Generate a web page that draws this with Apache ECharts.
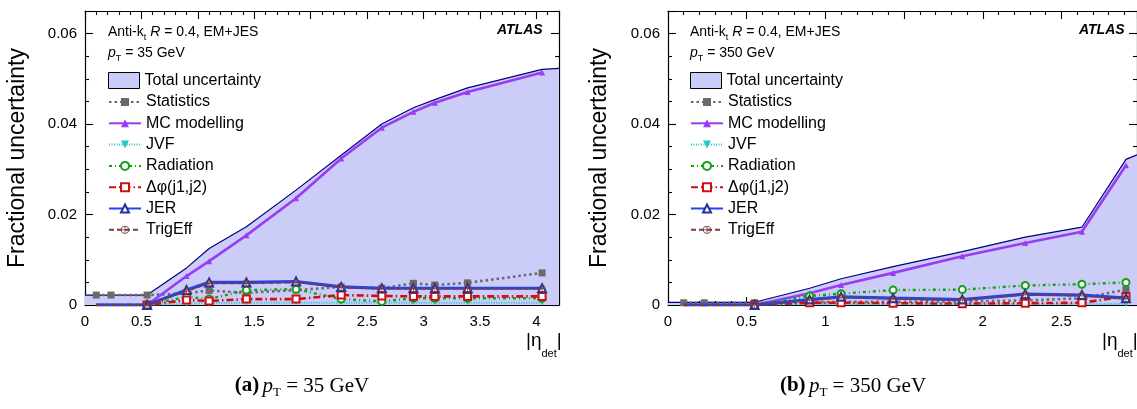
<!DOCTYPE html>
<html><head><meta charset="utf-8">
<script src="https://cdn.jsdelivr.net/npm/echarts@6/dist/echarts.min.js"></script>
<style>html,body{margin:0;padding:0;background:#fff}#c{width:1137px;height:409px}</style>
</head><body><div id="c"></div>
<script>
// ---------- data: panel (a) pT = 35 GeV ----------
const etaA      = [0.1, 0.23, 0.55, 0.9, 1.1, 1.43, 1.87, 2.27, 2.63, 2.91, 3.1, 3.39, 4.05];
const totEtaA   = [0, 0.1, 0.23, 0.55, 0.9, 1.1, 1.43, 1.87, 2.27, 2.63, 2.91, 3.1, 3.39, 4.05, 4.2];
const totalA    = [0.0022,0.0022,0.0022,0.0022,0.0082,0.0125,0.0173,0.0254,0.0331,0.0400,0.0436,0.0454,0.0480,0.0521,0.0523];
const statA     = [0.0022,0.0022,0.0022,0.0026,0.0032,0.0027,0.0033,0.0040,0.0037,0.0048,0.0044,0.0049,0.0071];
const mcA       = [0,0,0,0.0064,0.0097,0.0154,0.0236,0.0324,0.0392,0.0427,0.0447,0.0471,0.0514];
const jvfA      = [0,0,0,0.0003,0.0004,0.0005,0.0005,0.0005,0.0005,0.0005,0.0005,0.0005,0.0005];
const radA      = [0,0,0,0.0018,0.0013,0.0033,0.0035,0.0013,0.0008,0.0015,0.0015,0.0015,0.0015];
const dphiA     = [0,0,0,0.0011,0.0009,0.0013,0.0013,0.0022,0.0020,0.0019,0.0019,0.0019,0.0019];
const jerA      = [0,0,0,0.0033,0.0050,0.0050,0.0052,0.0040,0.0037,0.0037,0.0037,0.0037,0.0037];
const trigA     = [0,0,0,0.0031,0.0048,0.0048,0.0050,0.0039,0.0036,0.0036,0.0036,0.0036,0.0036];
// ---------- data: panel (b) pT = 350 GeV ----------
const etaB      = [0.1, 0.23, 0.55, 0.9, 1.1, 1.43, 1.87, 2.27, 2.63, 2.91];
const totEtaB   = [0, 0.1, 0.23, 0.55, 0.9, 1.1, 1.43, 1.87, 2.27, 2.63, 2.91, 2.98];
const totalB    = [0.0006,0.0006,0.0006,0.0006,0.0037,0.0058,0.0085,0.0118,0.0150,0.0172,0.0322,0.0332];
const statB     = [0.0005,0.0005,0.0005,0.0006,0.0007,0.0007,0.0008,0.0010,0.0015,0.0034];
const mcB       = [0,0,0,0.0026,0.0044,0.0071,0.0108,0.0137,0.0162,0.0309];
const jvfB      = [0,0,0,0.0002,0.0002,0.0002,0.0002,0.0002,0.0002,0.0002];
const radB      = [0,0,0,0.0020,0.0025,0.0033,0.0034,0.0043,0.0046,0.0050];
const dphiB     = [0,0,0,0.0005,0.0005,0.0004,0.0003,0.0004,0.0005,0.0019];
const jerB      = [0,0,0,0.0012,0.0018,0.0015,0.0012,0.0024,0.0022,0.0015];
const trigB     = [0,0,0,0.0011,0.0017,0.0014,0.0011,0.0023,0.0021,0.0014];
// ---------- labels ----------
const names = ['Total uncertainty','Statistics','MC modelling','JVF','Radiation','\u0394\u03c6(j1,j2)','JER','TrigEff'];
const xMaxA = 4.2, xMaxB = 2.98, yMax = 0.065;

const FONT = 'Liberation Sans';
const pair = (xs, ys) => xs.map((x, i) => [x, ys[i]]);
const trigPath = 'path://M10,0A10,10,0,1,1,9.99,0ZM10,2A8,8,0,1,0,10.01,2ZM9,0H11V20H9ZM0,9H20V11H0Z';
const sizeFn = s => (v => (v[1] > 0 || v[0] > 0.5) ? s : 0);

function seriesFor(g, eta, totEta, tot, st, mc, jvf, rad, dphi, jer, trig) {
  const base = {type:'line', xAxisIndex:2*g, yAxisIndex:2*g, animation:false, silent:true};
  return [
    Object.assign({}, base, {name:names[0], data:pair(totEta, tot), showSymbol:false, symbol:'none',
      lineStyle:{color:'#000080', width:1.2}, itemStyle:{color:'#ccccf8'}, areaStyle:{color:'#ccccf8', opacity:1}, z:1}),
    Object.assign({}, base, {name:names[1], data:pair(eta, st), symbol:'rect', symbolSize:7,
      lineStyle:{color:'#6a6a6a', width:2.6, type:[2.5,3]}, itemStyle:{color:'#6a6a6a'}, z:2}),
    Object.assign({}, base, {name:names[2], data:pair(eta, mc), symbol:'triangle', symbolSize:sizeFn(6),
      lineStyle:{color:'#9a3cf2', width:2.6}, itemStyle:{color:'#9a3cf2'}, z:3}),
    Object.assign({}, base, {name:names[3], data:pair(eta, jvf), symbol:'triangle', symbolRotate:180, symbolSize:sizeFn(6),
      lineStyle:{color:'#20c8c8', width:2, type:[1,1.5]}, itemStyle:{color:'#20c8c8'}, z:4}),
    Object.assign({}, base, {name:names[4], data:pair(eta, rad), symbol:'emptyCircle', symbolSize:sizeFn(7),
      lineStyle:{color:'#14a014', width:2.4, type:[3,3,1,3]}, itemStyle:{color:'#14a014', borderWidth:1.2}, z:5}),
    Object.assign({}, base, {name:names[5], data:pair(eta, dphi), symbol:'emptyRect', symbolSize:sizeFn(7),
      lineStyle:{color:'#d01010', width:2.6, type:[7,3,1.5,3]}, itemStyle:{color:'#d01010', borderWidth:1.2}, z:6}),
    Object.assign({}, base, {name:names[6], data:pair(eta, jer), symbol:'emptyTriangle', symbolSize:sizeFn(8),
      lineStyle:{color:'#1e44f2', width:3.2}, itemStyle:{color:'#27309a', borderWidth:1.2}, z:7}),
    Object.assign({}, base, {name:names[7], data:pair(eta, trig), symbol:trigPath, symbolSize:sizeFn(7),
      lineStyle:{color:'#7b3c3c', width:1.8, type:[5,3]}, itemStyle:{color:'#7b3c3c'}, z:8})
  ];
}

function axesFor(g, xmax) {
  const mk = () => ({gridIndex:g, type:'value', splitLine:{show:false},
    axisLine:{show:true, onZero:false, lineStyle:{color:'#000', width:1.2}},
    axisTick:{show:true, inside:true, length:8, lineStyle:{color:'#000', width:1.1}}});
  const minor = n => ({show:true, splitNumber:n, length:4, lineStyle:{color:'#000', width:1.1}});
  const lab = () => ({show:true, color:'#000', fontSize:15, fontFamily:FONT, showMaxLabel:false});
  const xs = [
    Object.assign(mk(), {position:'bottom', min:0, max:xmax, interval:0.5, minorTick:minor(5),
      axisLabel:Object.assign(lab(), {margin:9})}),
    Object.assign(mk(), {position:'top', min:0, max:xmax, interval:0.5, minorTick:minor(5), axisLabel:{show:false}})
  ];
  const ys = [
    Object.assign(mk(), {position:'left', min:0, max:yMax, interval:0.02, minorTick:minor(4),
      axisLabel:Object.assign(lab(), {margin:8, formatter:v => v === 0 ? '0' : v.toFixed(2)})}),
    Object.assign(mk(), {position:'right', min:0, max:yMax, interval:0.02, minorTick:minor(4), axisLabel:{show:false}})
  ];
  return {xs, ys};
}

const axA = axesFor(0, xMaxA), axB = axesFor(1, xMaxB);

function legendsFor(left) {
  return [
    {left:left, top:72, padding:0, orient:'vertical', itemWidth:31, itemHeight:16, selectedMode:false,
      data:[{name:names[0], icon:'rect', itemStyle:{color:'#ccccf8', borderColor:'#000', borderWidth:1}}],
      textStyle:{fontSize:16, fontFamily:FONT, color:'#000', lineHeight:16}},
    {left:left, top:94, padding:0, orient:'vertical', itemWidth:32, itemHeight:10, itemGap:5.3, selectedMode:false,
      data:names.slice(1),
      textStyle:{fontSize:16, fontFamily:FONT, color:'#000', lineHeight:16}}
  ];
}

const sub = {fontSize:9, fontFamily:FONT, lineHeight:9, verticalAlign:'bottom'};
function headerTexts(x, pt, atlasX) {
  return [
    {type:'text', x:x, y:22, style:{text:'{n|Anti-k}{s|t}{n| }{i|R}{n| = 0.4, EM+JES}', rich:{
      n:{fontSize:14, fontFamily:FONT, lineHeight:20, verticalAlign:'middle'},
      i:{fontSize:14, fontFamily:FONT, fontStyle:'italic', lineHeight:20, verticalAlign:'middle'},
      s:sub}, fill:'#000'}},
    {type:'text', x:x, y:43, style:{text:'{i|p}{s|T}{n| = ' + pt + ' GeV}', rich:{
      n:{fontSize:14, fontFamily:FONT, lineHeight:20, verticalAlign:'middle'},
      i:{fontSize:14, fontFamily:FONT, fontStyle:'italic', lineHeight:20, verticalAlign:'middle'},
      s:sub}, fill:'#000'}},
    {type:'text', x:atlasX, y:23, style:{text:'ATLAS', font:'italic bold 14px ' + FONT, fill:'#000'}}
  ];
}
function yTitle(x) {
  return {type:'text', x:x, y:158, rotation:Math.PI/2, style:{text:'Fractional uncertainty', font:'23px ' + FONT,
    align:'center', verticalAlign:'middle', fill:'#000'}};
}
function xTitle(x) {
  return {type:'text', x:x, y:331, style:{text:'{n|\u007c\u03b7}{s|det}{n|\u007c}', rich:{
    n:{fontSize:19, fontFamily:FONT, lineHeight:28, verticalAlign:'top'},
    s:{fontSize:11, fontFamily:FONT, lineHeight:11, verticalAlign:'bottom'}}, fill:'#000'}};
}
function caption(cx, letter, pt) {
  return {type:'text', x:cx, y:373, style:{text:'{b|(' + letter + ')} {i|p}{s|T}{n| = ' + pt + ' GeV}', align:'center', rich:{
    b:{fontSize:21, fontFamily:'Liberation Serif', fontWeight:'bold', lineHeight:26, verticalAlign:'middle'},
    i:{fontSize:21, fontFamily:'Liberation Serif', fontStyle:'italic', lineHeight:26, verticalAlign:'middle'},
    n:{fontSize:21, fontFamily:'Liberation Serif', lineHeight:26, verticalAlign:'middle'},
    s:{fontSize:13, fontFamily:'Liberation Serif', lineHeight:13, verticalAlign:'bottom'}}, fill:'#000'}};
}

const option = {
  backgroundColor:'#fff',
  animation:false,
  grid:[{left:85, top:11, width:474, height:294}, {left:668, top:11, width:471, height:294}],
  xAxis:[...axA.xs, ...axB.xs],
  yAxis:[...axA.ys, ...axB.ys],
  legend:[...legendsFor(108), ...legendsFor(690)],
  series:[
    ...seriesFor(0, etaA, totEtaA, totalA, statA, mcA, jvfA, radA, dphiA, jerA, trigA),
    ...seriesFor(1, etaB, totEtaB, totalB, statB, mcB, jvfB, radB, dphiB, jerB, trigB)
  ],
  graphic:[
    ...headerTexts(108, '35', 497), ...headerTexts(690, '350', 1079),
    yTitle(18), yTitle(600), xTitle(526), xTitle(1102),
    caption(302, 'a', '35'), caption(853, 'b', '350')
  ]
};
const chart = echarts.init(document.getElementById('c'), null, {renderer:'canvas'});
chart.setOption(option);
</script></body></html>
